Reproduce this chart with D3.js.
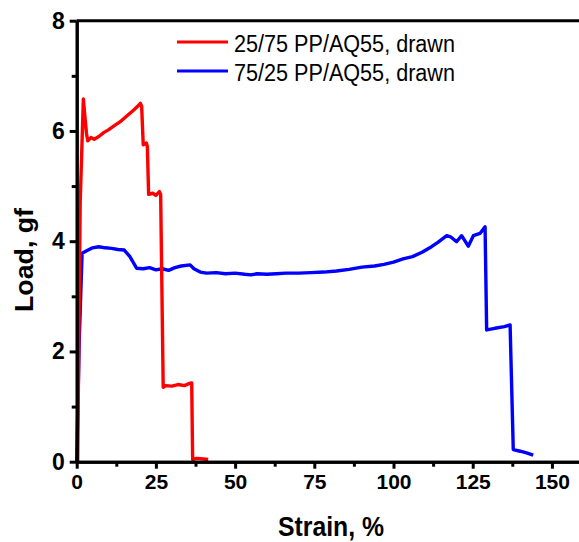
<!DOCTYPE html>
<html>
<head>
<meta charset="utf-8">
<script src="https://cdn.jsdelivr.net/npm/d3@7"></script>
<style>
  body { margin: 0; background: #fff; }
  svg { display: block; }
</style>
</head>
<body>
<div id="chart"></div>
<script>
// values
const seriesNames = ['25/75 PP/AQ55, drawn', '75/25 PP/AQ55, drawn'];
const seriesColors = ['#ff0000', '#0000ff'];

const redStrain = [0, 0.3, 1.1, 2.1, 2.6, 3.1, 3.5, 4.5, 5.5, 7, 8.5, 10, 12, 14, 16, 18, 19.5, 20.1, 20.5,
                   21, 22, 22.3, 22.7, 24, 25, 26.1, 26.5, 27.3, 28, 30, 32, 34, 35.5, 36.3, 36.6, 38, 40, 41.5];
const redLoad = [0, 0, 4.7, 6.58, 6.25, 5.95, 5.82, 5.88, 5.85, 5.9, 5.97, 6.02, 6.1, 6.18, 6.28, 6.38, 6.46, 6.5, 6.45,
                 5.75, 5.78, 5.72, 4.85, 4.87, 4.83, 4.9, 4.85, 1.35, 1.38, 1.37, 1.4, 1.38, 1.42, 1.43, 0.04, 0.06, 0.05, 0.04];

const blueStrain = [0, 0.8, 1.7, 3, 5, 7, 9, 11, 13, 15, 16.8, 18, 18.9, 21, 23, 25, 27, 29, 31, 33, 35.8, 37, 39, 41,
                    44, 47, 50, 53, 55, 57, 60, 63, 66, 70, 74, 78, 82, 86, 90, 94, 97, 100, 103, 106, 109, 112, 114,
                    116.8, 118, 119.9, 121.5, 123.6, 125.2, 127.3, 128.9, 129.4, 132, 135, 136.8, 137.8, 140, 142, 144.1];
const blueLoad = [0, 2.2, 3.78, 3.82, 3.88, 3.9, 3.88, 3.87, 3.85, 3.84, 3.72, 3.6, 3.51, 3.5, 3.52, 3.48, 3.5, 3.47, 3.52, 3.55, 3.57, 3.5, 3.44, 3.42,
                  3.43, 3.41, 3.42, 3.4, 3.39, 3.41, 3.4, 3.41, 3.42, 3.42, 3.43, 3.44, 3.46, 3.49, 3.53, 3.55, 3.58, 3.62, 3.68, 3.72, 3.8, 3.9, 3.98,
                  4.1, 4.08, 3.99, 4.1, 3.91, 4.1, 4.14, 4.26, 2.39, 2.42, 2.45, 2.48, 0.22, 0.19, 0.16, 0.12];

const xMajor = [0, 25, 50, 75, 100, 125, 150];
const xMinor = [12.5, 37.5, 62.5, 87.5, 112.5, 137.5];
const yMajor = [0, 2, 4, 6, 8];
const yMinor = [1, 3, 5, 7];

const W = 579, H = 542;
const svg = d3.select('#chart').append('svg')
  .attr('width', W).attr('height', H);

const x = d3.scaleLinear().domain([0, 160]).range([76.7, 583.6]);
const y = d3.scaleLinear().domain([0, 8]).range([461.7, 20.7]);

const font = 'Liberation Sans, Arial, sans-serif';

// series
const line = d3.line().x(d => x(d[0])).y(d => y(d[1]));
const series = [
  d3.zip(redStrain, redLoad),
  d3.zip(blueStrain, blueLoad)
];
// blue under red
[1, 0].forEach(i => {
  svg.append('path')
     .datum(series[i])
     .attr('fill', 'none')
     .attr('stroke', seriesColors[i])
     .attr('stroke-width', 3.4)
     .attr('stroke-linejoin', 'round')
     .attr('d', line);
});

// axes
function styleAxis(g) {
  g.select('.domain').attr('stroke', '#000').attr('stroke-width', 3);
  g.selectAll('.tick line').attr('stroke', '#000').attr('stroke-width', 3);
  g.selectAll('text').attr('font-family', font).attr('font-weight', 'bold').attr('fill', '#000');
}

svg.append('g')
   .attr('transform', `translate(0,${y(0)})`)
   .call(d3.axisBottom(x).tickValues(xMinor).tickSize(5).tickFormat('').tickSizeOuter(0))
   .call(styleAxis);
svg.append('g')
   .attr('transform', `translate(0,${y(0)})`)
   .call(d3.axisBottom(x).tickValues(xMajor).tickSize(7).tickPadding(5).tickSizeOuter(0))
   .call(styleAxis)
   .call(g => g.selectAll('text').attr('font-size', 21));

svg.append('g')
   .attr('transform', `translate(${x(0)},0)`)
   .call(d3.axisLeft(y).tickValues(yMinor).tickSize(5).tickFormat('').tickSizeOuter(0))
   .call(styleAxis);
svg.append('g')
   .attr('transform', `translate(${x(0)},0)`)
   .call(d3.axisLeft(y).tickValues(yMajor).tickSize(7).tickPadding(5).tickSizeOuter(0))
   .call(styleAxis)
   .call(g => g.selectAll('text').attr('font-size', 23));

// top frame line
svg.append('line')
   .attr('x1', x(0)).attr('x2', x(160))
   .attr('y1', y(8)).attr('y2', y(8))
   .attr('stroke', '#000').attr('stroke-width', 3);

// axis titles
svg.append('text')
   .attr('x', 278).attr('y', 536)
   .attr('textLength', 106).attr('lengthAdjust', 'spacingAndGlyphs')
   .attr('font-family', font).attr('font-weight', 'bold').attr('font-size', 27)
   .text('Strain, %');
svg.append('text')
   .attr('transform', 'translate(33,312) rotate(-90)')
   .attr('textLength', 104).attr('lengthAdjust', 'spacingAndGlyphs')
   .attr('font-family', font).attr('font-weight', 'bold').attr('font-size', 26)
   .text('Load, gf');

// legend
const legend = svg.append('g');
seriesNames.forEach((name, i) => {
  const ly = 42 + i * 29;
  legend.append('line')
        .attr('x1', 177).attr('x2', 228)
        .attr('y1', ly).attr('y2', ly)
        .attr('stroke', seriesColors[i]).attr('stroke-width', 3);
  legend.append('text')
        .attr('x', 234).attr('y', ly + 9.5)
        .attr('textLength', 221).attr('lengthAdjust', 'spacingAndGlyphs')
        .attr('font-family', font).attr('font-size', 23)
        .text(name);
});
</script>
</body>
</html>
